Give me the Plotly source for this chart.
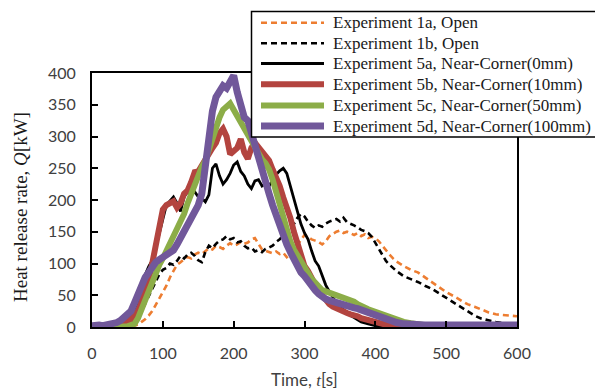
import plotly.graph_objects as go

# ---------------- data ----------------
t_1a = [0,10,20,30,40,50,55,60,65,70,75,80,85,90,95,100,105,110,115,120,125,130,135,140,145,150,155,160,165,170,175,180,185,190,195,200,205,210,215,220,225,230,235,240,245,250,255,260,265,270,275,280,285,290,295,300,305,310,315,320,325,330,335,340,345,350,355,360,365,370,375,380,385,390,395,400,405,410,415,420,425,430,440,450,460,470,480,490,500,510,520,530,540,550,560,570,580,590,600]
q_1a = [0,0,0,0,0,0,1,2,4,8,12,18,25,35,45,55,65,78,88,98,102,107,110,108,114,117,115,120,124,122,128,126,123,128,132,128,130,134,131,133,138,140,130,122,120,118,116,119,115,117,110,114,122,130,138,145,142,138,136,134,130,135,143,147,150,152,148,150,147,145,148,143,146,140,142,140,135,128,120,114,108,103,96,90,86,78,70,63,55,49,42,36,32,27,23,20,19,18,17]

t_1b = [0,10,20,30,40,50,60,70,80,90,95,100,105,110,115,120,125,130,135,140,145,150,155,160,165,170,175,180,185,190,195,200,205,210,215,220,225,230,235,240,245,250,255,260,265,270,275,280,285,290,295,300,305,310,315,320,325,330,335,340,345,350,355,360,365,370,375,380,385,390,395,400,405,410,415,420,425,430,440,450,460,470,480,490,500,510,520,530,540,550,560,570,580,590,600]
q_1b = [0,0,0,0,1,3,10,25,48,72,83,90,93,100,98,104,112,108,114,117,112,105,102,118,128,124,131,136,138,143,138,140,133,135,128,124,125,119,121,118,123,125,128,134,138,145,150,155,162,172,178,174,166,160,156,160,158,163,166,168,170,166,172,165,163,160,157,153,151,148,142,132,122,112,104,98,93,88,80,76,71,65,60,53,46,39,33,25,18,13,10,8,6,5,4]

t_5a = [0,10,20,30,40,50,55,60,65,70,75,80,85,90,95,100,105,110,115,120,125,130,135,140,145,150,155,160,165,170,175,180,185,190,195,200,205,210,215,220,225,230,235,240,245,250,255,260,265,270,275,280,285,290,295,300,305,310,315,320,325,330,335,340,345,350,355,360,365,370,375,380,390,400,410,420,450,500,550,600]
q_5a = [0,0,0,1,4,12,18,28,40,60,82,95,105,125,150,170,192,198,205,195,182,205,213,208,213,205,203,197,208,250,257,238,225,232,242,255,260,245,238,225,218,230,232,222,226,222,232,240,246,250,242,222,200,182,162,148,138,120,104,96,82,66,56,46,38,32,27,22,18,15,11,8,5,2,1,0,0,0,0,0]

t_5b = [0,10,20,30,40,50,55,60,65,70,75,80,85,90,95,100,105,110,115,120,125,130,135,140,145,150,155,160,165,170,175,180,185,190,195,200,205,210,215,220,225,230,235,240,245,250,255,260,265,270,275,280,285,290,295,300,305,310,315,320,325,330,335,340,345,350,355,360,365,370,375,380,390,400,410,420,430,440,500,600]
q_5b = [0,0,0,1,3,8,12,18,26,40,56,75,100,125,160,185,192,194,198,188,195,210,215,228,244,245,255,265,272,282,290,305,312,300,272,276,282,296,275,265,282,290,282,276,270,262,248,236,222,204,190,172,150,132,112,96,88,76,66,56,50,42,36,32,29,26,24,22,20,19,17,14,11,7,4,2,1,1,0,0]

t_5c = [0,10,20,30,40,45,50,55,60,65,70,75,80,85,90,95,100,105,110,115,120,125,130,135,140,145,150,155,160,165,170,175,180,185,190,195,200,205,210,215,220,225,230,235,240,245,250,255,260,265,270,275,280,285,290,295,300,305,310,315,320,325,330,335,340,345,350,355,360,365,370,375,380,390,400,410,420,430,440,450,460,470,480,490,500,550,600]
q_5c = [0,0,0,0,0,0,1,3,5,14,28,40,55,72,88,98,108,120,132,142,152,165,178,195,210,226,238,252,262,280,298,315,330,342,348,352,342,332,320,310,302,292,282,272,264,258,248,232,212,192,180,160,135,122,112,104,92,84,76,70,63,58,56,54,53,50,50,46,45,42,40,36,33,28,24,20,15,11,8,6,4,3,3,3,2,2,2]

t_5d = [0,5,10,15,20,25,30,35,40,45,50,55,60,65,70,75,80,85,90,95,100,105,110,115,120,125,130,135,140,145,150,155,160,165,170,175,180,185,190,195,200,205,210,215,220,225,230,235,240,245,250,255,260,265,270,275,280,285,290,295,300,305,310,315,320,325,330,335,340,345,350,355,360,365,370,375,380,385,390,395,400,410,420,430,440,450,460,470,500,550,600]
q_5d = [2,3,3,2,3,4,5,7,10,15,20,25,38,52,65,78,86,95,102,106,110,114,117,121,130,140,148,160,168,180,192,210,250,305,340,362,372,380,376,385,396,370,345,330,325,305,285,265,240,225,210,192,175,160,145,130,118,105,95,86,80,72,63,58,52,47,44,42,40,38,37,35,34,32,30,29,27,25,22,20,18,15,11,7,5,4,4,3,3,3,3]

labels = ["Experiment 1a, Open", "Experiment 1b, Open",
          "Experiment 5a, Near-Corner(0mm)", "Experiment 5b, Near-Corner(10mm)",
          "Experiment 5c, Near-Corner(50mm)", "Experiment 5d, Near-Corner(100mm)"]

x_ticks = [0, 100, 200, 300, 400, 500, 600]
y_ticks = [0, 50, 100, 150, 200, 250, 300, 350, 400]

# ---------------- styles ----------------
styles = [
    dict(color="#ED7D31", width=2.6, dash="6px,4px"),
    dict(color="#000000", width=2.6, dash="6px,4px"),
    dict(color="#000000", width=2.8, dash="solid"),
    dict(color="#B3443F", width=6, dash="solid"),
    dict(color="#8CAD48", width=6, dash="solid"),
    dict(color="#71589A", width=7, dash="solid"),
]
series = [(t_1a, q_1a), (t_1b, q_1b), (t_5a, q_5a), (t_5b, q_5b), (t_5c, q_5c), (t_5d, q_5d)]

fig = go.Figure()
for (tt, qq), lab, st in zip(series, labels, styles):
    fig.add_trace(go.Scatter(x=tt, y=qq, mode="lines", name=lab, line=st,
                             showlegend=False, hoverinfo="skip"))

W, H = 595, 389
L, R, T, B = 92, 517, 73, 327
pw, ph = R - L, B - T

def px(xp):
    return (xp - L) / pw

def py(yp):
    return (B - yp) / ph

# manual legend box
fig.add_shape(type="rect", xref="paper", yref="paper",
              x0=px(251.5), x1=px(620), y0=py(137), y1=py(11.5),
              line=dict(color="black", width=1.5), fillcolor="white", layer="above")
rows = [22.7, 43.3, 63.5, 84.3, 105.5, 126]
for yr, lab, st in zip(rows, labels, styles):
    fig.add_shape(type="line", xref="paper", yref="paper",
                  x0=px(261), x1=px(324), y0=py(yr), y1=py(yr),
                  line=dict(color=st["color"], width=st["width"], dash=st["dash"]),
                  layer="above")
    fig.add_annotation(xref="paper", yref="paper", x=px(331), y=py(yr),
                       xanchor="left", yanchor="middle", text=lab, showarrow=False,
                       font=dict(family="Liberation Serif", size=17, color="#1a1a1a"))

# axis titles
fig.add_annotation(xref="paper", yref="paper", x=px(304), y=py(379.5),
                   xanchor="center", yanchor="middle", showarrow=False,
                   text="Time, <i><span style='font-family:Liberation Serif'>t</span></i>[s]",
                   font=dict(family="Lato", size=17, color="#404040"))
fig.add_annotation(xref="paper", yref="paper", x=px(20), y=py(207),
                   xanchor="center", yanchor="middle", showarrow=False, textangle=-90,
                   text="Heat release rate, <i>Q</i>[kW]",
                   font=dict(family="Liberation Serif", size=19, color="#1a1a1a"))

axis_common = dict(showline=True, linecolor="black", linewidth=2, mirror=True,
                   ticks="inside", ticklen=6, tickwidth=1.5, tickcolor="black",
                   showgrid=False, zeroline=False,
                   tickfont=dict(family="Lato", size=16, color="#404040"))
fig.update_xaxes(range=[0, 600], tickvals=x_ticks, ticklabelstandoff=11, **axis_common)
fig.update_yaxes(range=[0, 400], tickvals=y_ticks, ticklabelstandoff=11, **axis_common)

fig.update_layout(width=W, height=H, margin=dict(l=L, r=W - R, t=T, b=H - B),
                  paper_bgcolor="white", plot_bgcolor="white", showlegend=False)

fig.write_html("out.html", config={"displayModeBar": False},
               post_script="document.body.style.margin='0';document.body.style.overflow='hidden';")
